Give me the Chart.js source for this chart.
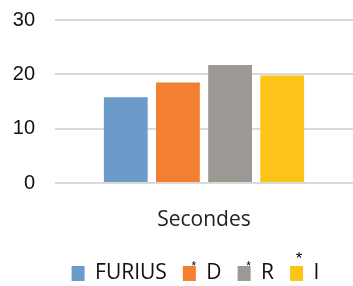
<!DOCTYPE html>
<html>
<head>
<meta charset="utf-8">
<script src="https://cdn.jsdelivr.net/npm/chart.js@4"></script>
<style>
  html, body { margin: 0; padding: 0; background: #fff; }
  #wrap { width: 353px; height: 286px; position: relative; }
</style>
</head>
<body>
<div id="wrap"><canvas id="chart"></canvas></div>
<script>
const categories = ['Secondes'];
const seriesNames = ['FURIUS', 'D', 'R', 'I'];
const seriesValues = [15.8, 18.5, 21.7, 19.8];
const seriesStars = ['', '*', '*', '*'];
const seriesColors = ['#6a9bc9', '#f57f31', '#9c9894', '#fcc419'];
const yTicks = [0, 10, 20, 30];

// legend sits a bit right of centre and lower in the original
const legendShift = {
    id: 'legendShift',
    afterLayout: function(chart) {
        const lg = chart.legend;
        lg.left += 19; lg.right += 19;
        lg.top += 8; lg.bottom += 8;
    }
};

// asterisks drawn above the legend markers
const starPlugin = {
    id: 'stars',
    afterDraw: function(chart) {
        const boxes = chart.legend.legendHitBoxes;
        const ctx = chart.ctx;
        ctx.save();
        ctx.fillStyle = '#000';
        ctx.textAlign = 'center';
        ctx.textBaseline = 'alphabetic';
        boxes.forEach(function(b, i) {
            if (!seriesStars[i]) return;
            const big = i === 3;
            ctx.font = (big ? '17px' : '12px') + ' "Liberation Sans", Arial, sans-serif';
            ctx.fillText(seriesStars[i], b.left + (big ? 9 : 11), b.top + (big ? 1 : 7));
        });
        ctx.restore();
    }
};

new Chart(document.getElementById('chart'), {
    type: 'bar',
    data: {
        labels: categories,
        datasets: seriesNames.map(function(name, i) {
            return {
                label: name,
                data: [seriesValues[i]],
                backgroundColor: seriesColors[i],
                borderWidth: 0,
                categoryPercentage: 0.7,
                barPercentage: 0.84
            };
        })
    },
    options: {
        responsive: true,
        maintainAspectRatio: false,
        animation: false,
        layout: { padding: 0 },
        plugins: {
            tooltip: { enabled: false },
            legend: {
                position: 'bottom',
                labels: {
                    boxWidth: 13,
                    boxHeight: 15,
                    padding: 16,
                    color: '#111',
                    font: { family: '"Open Sans", sans-serif', size: 21 }
                }
            }
        },
        scales: {
            x: {
                grid: { display: false, drawTicks: false },
                border: { display: false },
                afterFit: function(axis) {
                    axis.height = 56;
                    axis.paddingLeft = 0;
                    axis.paddingRight = 0;
                },
                ticks: {
                    padding: 24,
                    color: '#222',
                    font: { family: '"Open Sans", sans-serif', size: 21 }
                }
            },
            y: {
                min: 0,
                max: 30,
                afterBuildTicks: function(axis) {
                    axis.ticks = yTicks.map(function(v) { return { value: v }; });
                },
                afterFit: function(axis) {
                    axis.width = 55;
                    axis.paddingTop = 20;
                    axis.paddingBottom = 0;
                },
                grid: { color: '#d9d9d9', lineWidth: 2, drawTicks: false },
                border: { display: false },
                ticks: {
                    padding: 20,
                    color: '#111',
                    font: { family: '"Liberation Sans", Arial, sans-serif', size: 20 }
                }
            }
        }
    },
    plugins: [legendShift, starPlugin]
});
</script>
</body>
</html>
